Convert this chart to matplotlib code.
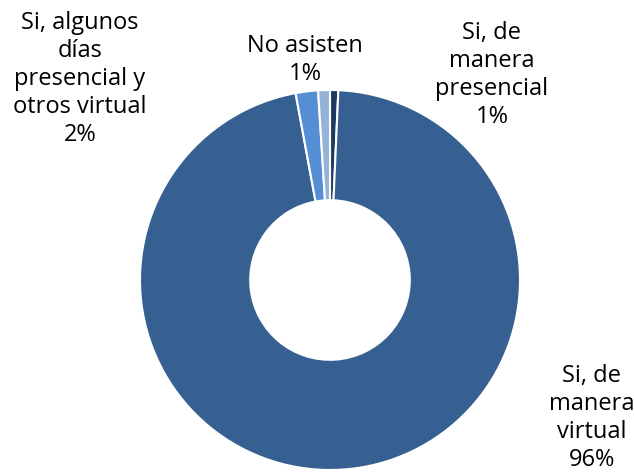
import matplotlib.pyplot as plt

labels = ['Si, de\nmanera\npresencial\n1%', 'Si, de\nmanera\nvirtual\n96%',
          'Si, algunos\ndías\npresencial y\notros virtual\n2%', 'No asisten\n1%']
values = [0.7, 96.4, 1.9, 1.0]
colors = ['#1f3a5f', '#376092', '#558ed5', '#95b3d7']

W, H = 634, 476
fig = plt.figure(figsize=(W / 100, H / 100), dpi=100)
cx, cy, r = 330, 280, 190
ax = fig.add_axes([(cx - r) / W, (H - cy - r) / H, 2 * r / W, 2 * r / H])
ax.pie(values, colors=colors, startangle=90, counterclock=False, radius=1,
       wedgeprops=dict(width=0.58, edgecolor='white', linewidth=1.5))
ax.set_xlim(-1, 1)
ax.set_ylim(-1, 1)
ax.set_aspect('equal')
ax.axis('off')

# label positions in pixels (x, y from top)
label_pos = [(492, 75), (592, 418), (80, 79), (305, 60)]
for txt, (x, y) in zip(labels, label_pos):
    fig.text(x / W, 1 - y / H, txt, ha='center', va='center', fontsize=17,
             family='Open Sans', linespacing=1.22, multialignment='center')

fig.savefig('out.png', dpi=100)
